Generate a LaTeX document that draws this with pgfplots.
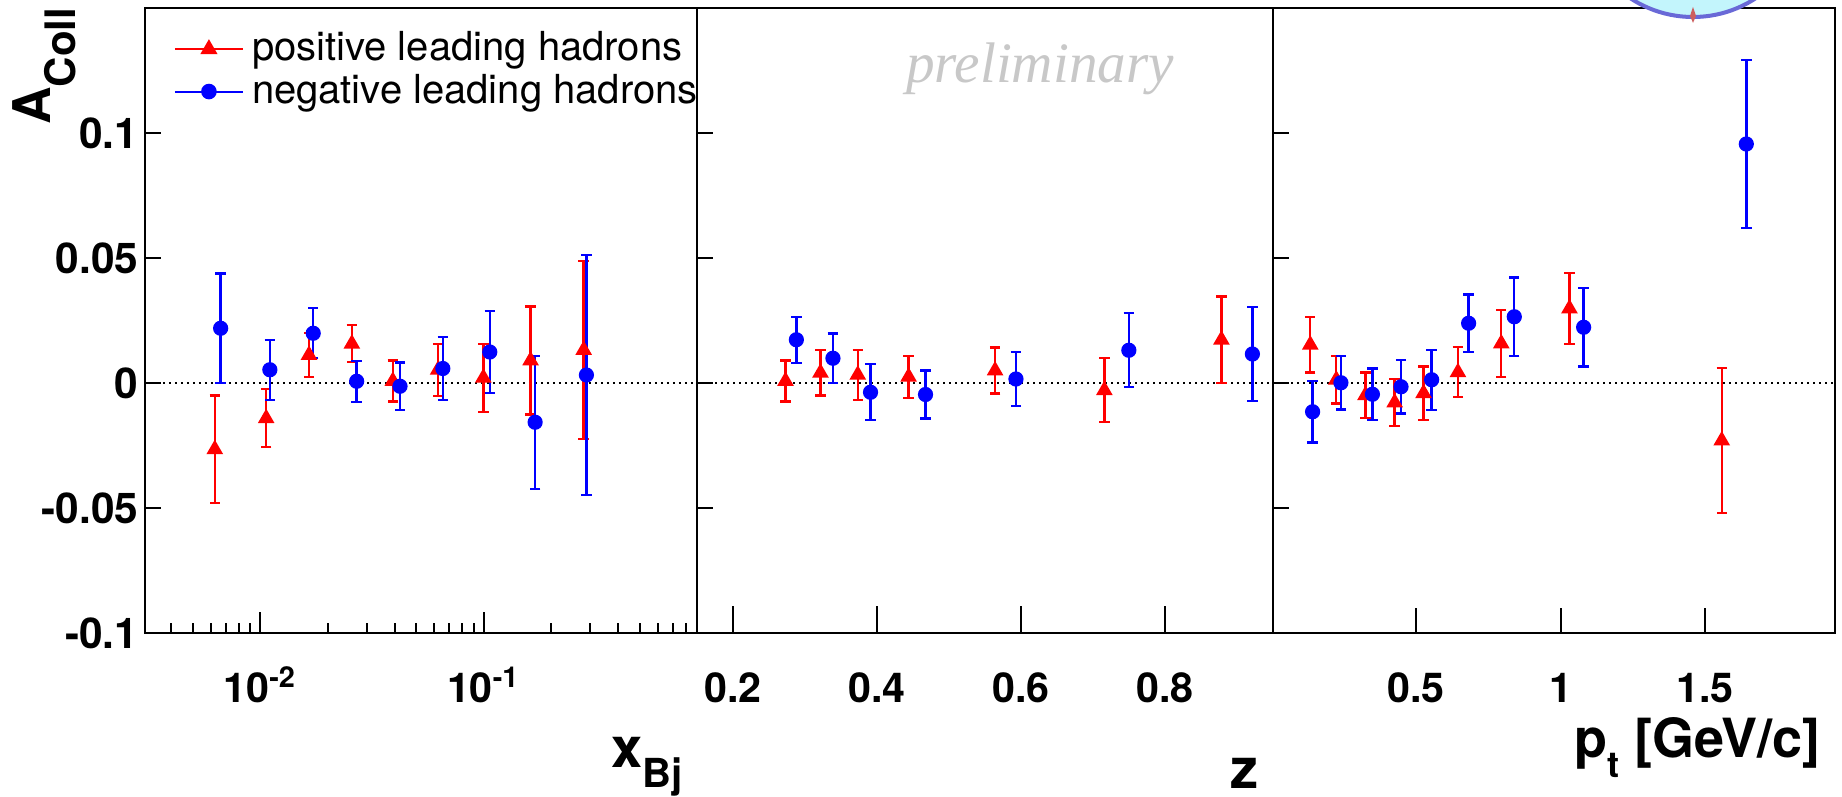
\documentclass[border=0pt]{standalone}
\usepackage{fontspec}
\setmainfont{TeX Gyre Heros}
\newfontfamily\timesfont{Liberation Serif}
\usepackage{pgfplots}
\pgfplotsset{compat=1.18}
\usepackage{pgfplotstable}

\definecolor{rootred}{RGB}{255,0,0}
\definecolor{rootblue}{RGB}{0,0,255}
\definecolor{prelgray}{RGB}{200,200,200}
\definecolor{logofill}{RGB}{195,245,252}
\definecolor{logoedge}{RGB}{105,105,215}
\definecolor{logored}{RGB}{205,95,95}

% x_Bj panel
\pgfplotstableread{
x y e
0.00626 -0.0265 0.0215
0.01063 -0.0141 0.0116
0.01652 0.0112 0.0088
0.0257 0.0157 0.0074
0.0392 0.0008 0.0082
0.0625 0.0053 0.0104
0.0996 0.0021 0.0136
0.162 0.0090 0.0216
0.280 0.0132 0.0355
}\xbjpos
\pgfplotstableread{
x y e
0.00665 0.0219 0.0219
0.01104 0.0053 0.0120
0.01726 0.0199 0.0100
0.0270 0.0007 0.0082
0.0422 -0.0013 0.0095
0.0656 0.0058 0.0125
0.1064 0.0124 0.0165
0.1698 -0.0157 0.0266
0.288 0.0032 0.0479
}\xbjneg
% z panel
\pgfplotstableread{
x y e
0.2729 0.0008 0.0082
0.3215 0.0041 0.0091
0.3733 0.0033 0.0100
0.4439 0.0025 0.0084
0.5640 0.0050 0.0092
0.7158 -0.0029 0.0128
0.8784 0.0173 0.0173
}\zpos
\pgfplotstableread{
x y e
0.2880 0.0173 0.0092
0.3388 0.0099 0.0099
0.3910 -0.0037 0.0112
0.4674 -0.0046 0.0096
0.5930 0.0016 0.0107
0.7498 0.0131 0.0148
0.9214 0.0116 0.0189
}\zneg
% pt panel
\pgfplotstableread{
x y e
0.134 0.0153 0.0111
0.224 0.0013 0.0095
0.325 -0.0049 0.0091
0.426 -0.0078 0.0095
0.526 -0.0041 0.0107
0.645 0.0043 0.0100
0.795 0.0158 0.0133
1.031 0.0298 0.0141
1.558 -0.0230 0.0289
}\ptpos
\pgfplotstableread{
x y e
0.142 -0.0115 0.0123
0.240 0.0001 0.0107
0.349 -0.0045 0.0103
0.448 -0.0015 0.0107
0.554 0.0013 0.0120
0.682 0.0239 0.0115
0.840 0.0265 0.0157
1.080 0.0223 0.0157
1.643 0.0956 0.0337
}\ptneg

\pgfplotsset{
  panel/.style={
    scale only axis, height=156.25pt, anchor=south west,
    ymin=-0.1, ymax=0.15,
    axis line style={line width=0.5pt},
    tick align=inside, xtick pos=left, ytick pos=left,
    minor tick length=2.5pt,
    tick style={line width=0.5pt, black},
    ytick=\empty,
    extra y ticks={-0.1,-0.05,0,0.05,0.1},
    extra y tick style={major tick length=4pt},
    ticklabel style={font=\bfseries\fontsize{10.3}{12}\selectfont},
    xticklabel style={anchor=base, yshift=-17.25pt},
    yticklabel style={inner xsep=0pt, xshift=-1.5pt, font=\bfseries\fontsize{10.6}{12}\selectfont},
    every axis x label/.style={at={(rel axis cs:1,0)}, anchor=base east},
  },
  nolabels/.style={extra y tick style={yticklabel=\empty}},
  errs/.style={
    /pgfplots/error bars/y dir=both,
    /pgfplots/error bars/y explicit,
    /pgfplots/error bars/error bar style={line width=0.6pt},
    /pgfplots/error bars/error mark options={rotate=90, mark size=1.3pt, line width=0.6pt}},
  redpts/.style={only marks, mark=triangle*, mark size=2pt, color=rootred,
    mark options={fill=rootred, draw=rootred, solid}, forget plot, errs},
  bluepts/.style={only marks, mark=*, mark size=1.7pt, color=rootblue,
    mark options={fill=rootblue, draw=rootblue, solid}, forget plot, errs},
  zeroline/.style={black, line width=0.6pt, dash pattern=on 0.6pt off 0.9pt, forget plot},
}

\begin{document}
\begin{tikzpicture}
\path[use as bounding box] (0,0) rectangle (460.5pt,199pt);

% ---------- panel 1: x_Bj ----------
\begin{axis}[panel, at={(36.25pt,40.75pt)}, width=138pt,
  xmode=log, xmin=0.00305, xmax=0.9,
  extra y tick labels={-0.1,-0.05,0,0.05,0.1},
  xtick={0.01,0.1},
  xticklabels={10\textsuperscript{-2},10\textsuperscript{-1}},
  major tick length=5.25pt,
  minor xtick={0.004,0.005,0.006,0.007,0.008,0.009,0.02,0.03,0.04,0.05,0.06,0.07,0.08,0.09,0.2,0.3,0.4,0.5,0.6,0.7,0.8},
  xlabel={\bfseries\fontsize{14}{16}\selectfont x\raisebox{-5pt}{\fontsize{10}{11}\selectfont Bj}},
  xlabel style={yshift=-33.5pt},
  legend cell align=left,
  legend style={draw=none, fill=none, at={(rel axis cs:0,1)}, anchor=north west,
    xshift=4pt, yshift=-1.7pt, font=\fontsize{10}{11}\selectfont, row sep=-2.2pt},
]
\addlegendimage{color=rootred, mark=triangle*, mark size=2pt, mark options={fill=rootred}, line width=0.5pt}
\addlegendentry{positive leading hadrons}
\addlegendimage{color=rootblue, mark=*, mark size=1.7pt, mark options={fill=rootblue}, line width=0.5pt}
\addlegendentry{negative leading hadrons}
\addplot[zeroline] coordinates {(0.00305,0) (0.9,0)};
\addplot[redpts] table[x=x, y=y, y error=e] {\xbjpos};
\addplot[bluepts] table[x=x, y=y, y error=e] {\xbjneg};
\end{axis}

% ---------- panel 2: z ----------
\begin{axis}[panel, nolabels, at={(174.25pt,40.75pt)}, width=144pt,
  xmin=0.15, xmax=0.95,
  xtick={0.2,0.4,0.6,0.8},
  xticklabels={0.2,0.4,0.6,0.8},
  major tick length=6.75pt,
  xlabel={\bfseries\fontsize{14}{16}\selectfont z},
  xlabel style={yshift=-38.75pt},
]
\addplot[zeroline] coordinates {(0.15,0) (0.95,0)};
\addplot[redpts] table[x=x, y=y, y error=e] {\zpos};
\addplot[bluepts] table[x=x, y=y, y error=e] {\zneg};
\end{axis}

% ---------- panel 3: p_t ----------
\begin{axis}[panel, nolabels, at={(318.25pt,40.75pt)}, width=140.5pt,
  xmin=0.005, xmax=1.95,
  xtick={0.5,1,1.5},
  xticklabels={0.5,1,1.5},
  major tick length=6.25pt,
  xlabel={\bfseries\fontsize{13.5}{16}\selectfont p\raisebox{-5pt}{\fontsize{9}{10}\selectfont t} [GeV/c]},
  xlabel style={yshift=-31pt},
]
\addplot[zeroline] coordinates {(0.005,0) (1.95,0)};
\addplot[redpts] table[x=x, y=y, y error=e] {\ptpos};
\addplot[bluepts] table[x=x, y=y, y error=e] {\ptneg};
\end{axis}

% y axis title
\node[rotate=90, anchor=base east, inner sep=0pt] at (12.5pt,197.25pt)
  {\bfseries\fontsize{13}{15}\selectfont A\raisebox{-6.25pt}{\fontsize{10.5}{12}\selectfont Coll}};

% preliminary
\node[anchor=base, inner sep=0pt, text=prelgray] at (260pt,178.5pt)
  {\timesfont\itshape\fontsize{14.3}{16}\selectfont preliminary};

% logo (partially visible)
\begin{scope}
\clip (0,0) rectangle (460.5pt,199pt);
\fill[logofill] (423.25pt,223.25pt) circle (28.5pt);
\draw[logoedge, line width=1pt] (423.25pt,223.25pt) circle (28.5pt);
\fill[logored] (423.25pt,193.3pt) -- (424pt,195pt) -- (423.25pt,197.3pt) -- (422.5pt,195pt) -- cycle;
\end{scope}
\end{tikzpicture}
\end{document}
